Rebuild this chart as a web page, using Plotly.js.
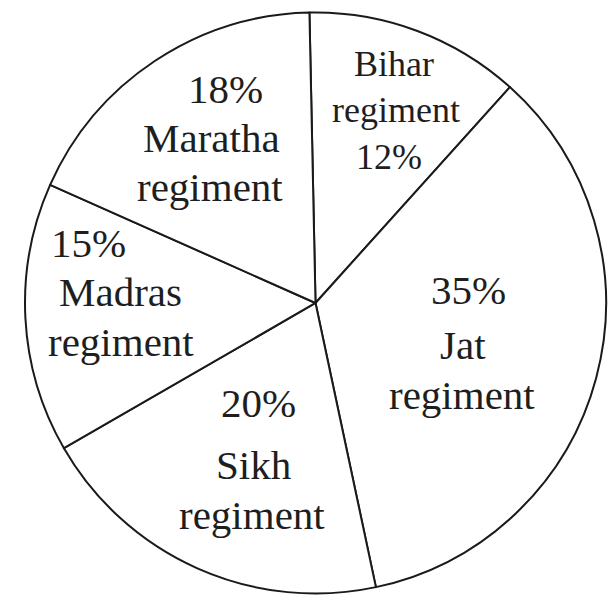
<!DOCTYPE html>
<html>
<head>
<meta charset="utf-8">
<script src="https://cdn.plot.ly/plotly-3.0.1.min.js"></script>
<style>
  html, body { margin: 0; padding: 0; background: #ffffff; }
  #chart { width: 616px; height: 599px; }
</style>
</head>
<body>
<div id="chart"></div>
<script>
// ---- data ----
const regiments = ['Bihar', 'Jat', 'Sikh', 'Madras', 'Maratha'];
const shares = [12, 35, 20, 15, 18];           // percent
const suffix = 'regiment';

// ---- label layout (pixel centres of each text line, in reading order) ----
const W = 616, H = 599;
const labelLines = [
  { lines: [regiments[0], suffix, shares[0] + '%'], xs: [394, 396, 389], ys: [64, 110, 157], size: 36 },
  { lines: [shares[1] + '%', regiments[1], suffix], xs: [468, 463, 462], ys: [290, 345, 395], size: 41 },
  { lines: [shares[2] + '%', regiments[2], suffix], xs: [258, 253, 252], ys: [403, 465, 515], size: 41 },
  { lines: [shares[3] + '%', regiments[3], suffix], xs: [88, 120, 121], ys: [243, 292, 342], size: 41 },
  { lines: [shares[4] + '%', regiments[4], suffix], xs: [225, 211, 210], ys: [89, 138, 187], size: 41 }
];

const annotations = [];
labelLines.forEach(function (g) {
  g.lines.forEach(function (t, i) {
    annotations.push({
      text: t,
      xref: 'paper', yref: 'paper',
      x: g.xs[i] / W, y: 1 - g.ys[i] / H,
      xanchor: 'center', yanchor: 'middle',
      showarrow: false,
      borderpad: 0,
      font: { family: '"Liberation Serif", "Times New Roman", serif', size: g.size, color: '#1e1e1e' }
    });
  });
});

const trace = {
  type: 'pie',
  labels: regiments.map(function (r) { return r + ' ' + suffix; }),
  values: shares,
  sort: false,
  direction: 'clockwise',
  rotation: -1.2,
  textinfo: 'none',
  hoverinfo: 'label+percent',
  marker: {
    colors: regiments.map(function () { return '#ffffff'; }),
    line: { color: '#1a1a1a', width: 2 }
  },
  domain: { x: [0.0406, 0.9838], y: [0.0092, 0.9792] }
};

const layout = {
  width: W,
  height: H,
  margin: { l: 0, r: 0, t: 0, b: 0, pad: 0 },
  showlegend: false,
  paper_bgcolor: '#ffffff',
  plot_bgcolor: '#ffffff',
  annotations: annotations
};

Plotly.newPlot('chart', [trace], layout, { staticPlot: true, displayModeBar: false });
</script>
</body>
</html>
